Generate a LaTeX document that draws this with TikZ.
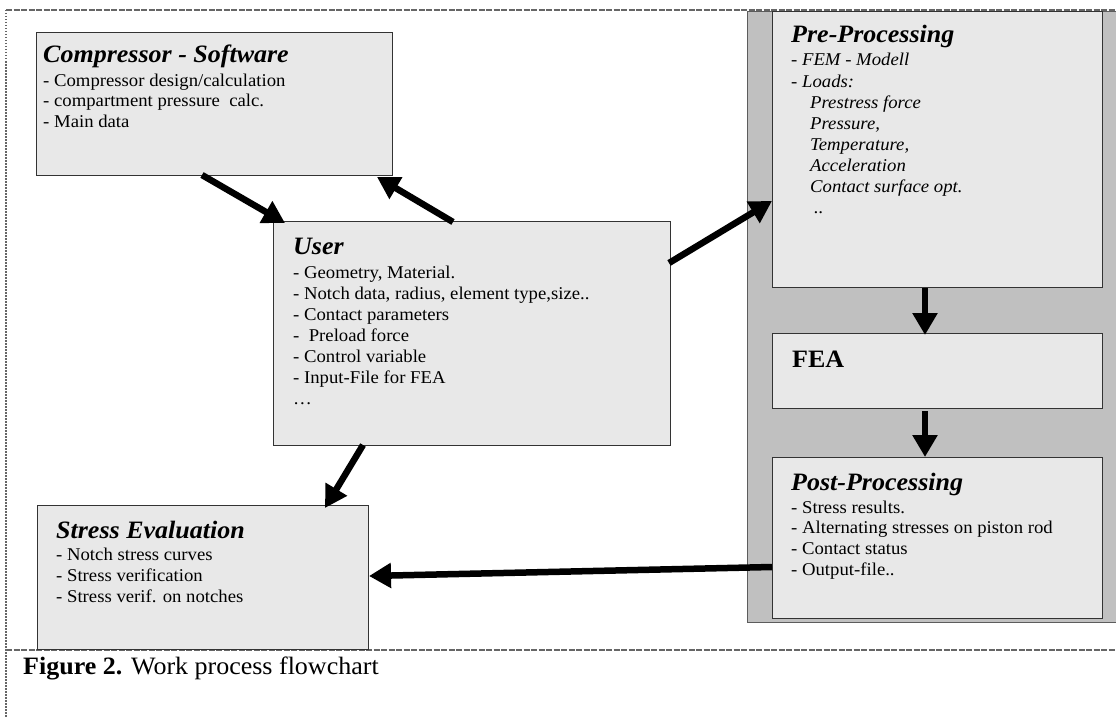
\documentclass[tikz,border=0pt]{standalone}
\usepackage{fontspec}
\setmainfont[FakeStretch=1.04]{Liberation Serif}
\usetikzlibrary{arrows.meta,calc}
\definecolor{boxfill}{HTML}{E8E8E8}
\definecolor{panelfill}{HTML}{C0C0C0}
\definecolor{edge}{HTML}{333333}
\definecolor{frameline}{HTML}{666666}
\begin{document}
\begin{tikzpicture}[x=1pt,y=-1pt,
  box/.style={draw=edge, line width=1pt, fill=boxfill, anchor=north west, inner sep=0pt},
  ttl/.style={anchor=base west, inner sep=0pt, font=\fontsize{25}{25}\selectfont\bfseries\itshape},
  itm/.style={anchor=base west, inner sep=0pt, font=\fontsize{18}{21}\selectfont},
  itmi/.style={itm, font=\fontsize{18}{21}\selectfont\itshape},
  arr/.style={line width=6.5pt, -{Triangle[length=22pt,width=24pt]}}]
\useasboundingbox (0,0) rectangle (1116,717);
% frame lines
\draw[frameline, line width=1.3pt, dash pattern=on 6pt off 1.5pt] (6,10) -- (1116,10);
\draw[frameline, line width=1.3pt, dash pattern=on 6pt off 1.5pt] (6,650) -- (1116,650);
\draw[frameline, line width=2pt, dash pattern=on 1.5pt off 1.5pt] (6,10) -- (6,717);
% grey panel
\node[box, draw=edge!80, fill=panelfill, minimum width=380pt, minimum height=611pt] (panel) at (747,11) {};
% boxes
\node[box, minimum width=356pt, minimum height=143pt] (cs) at (36,32) {};
\node[box, minimum width=397pt, minimum height=224pt] (user) at (273,221) {};
\node[box, minimum width=331pt, minimum height=144pt] (se) at (37,505) {};
\node[box, minimum width=330pt, minimum height=276pt] (pre) at (772,11) {};
\node[box, minimum width=330pt, minimum height=75pt] (fea) at (772,333) {};
\node[box, minimum width=330pt, minimum height=161pt] (post) at (772,457) {};
% Compressor - Software
\node[ttl] (cst) at (43,63) {Compressor - Software};
\foreach \t [count=\i] in {{- Compressor design/calculation},{- compartment pressure\ \ calc.},{- Main data}}
  \node[itm] (cs\i) at (43,{86+20.5*(\i-1)}) {\t};
% User
\node[ttl] (ut) at (293,254) {User};
\foreach \t [count=\i] in {{- Geometry, Material.},{- Notch data, radius, element type,size..},{- Contact parameters},{-\ \ Preload force},{- Control variable},{- Input-File for FEA},{…}}
  \node[itm] (u\i) at (293,{278+21*(\i-1)}) {\t};
% Pre-Processing
\node[ttl] (pt) at (791,43) {Pre-Processing};
\node[itmi] (p1) at (791,66) {- FEM - Modell};
\node[itmi] (p2) at (791,87) {- Loads:};
\foreach \t [count=\i] in {{Prestress force},{Pressure,},{Temperature,},{Acceleration},{Contact surface opt.}}
  \node[itmi] (pl\i) at (810,{108+21*(\i-1)}) {\t};
\node[itmi] (pdots) at (814,213) {..};
% FEA
\node[anchor=base west, inner sep=0pt, font=\fontsize{25}{25}\selectfont\bfseries] (feat) at (792,367) {FEA};
% Post-Processing
\node[ttl] (pot) at (791,490) {Post-Processing};
\foreach \t [count=\i] in {{- Stress results.},{- Alternating stresses on piston rod},{- Contact status},{- Output-file..}}
  \node[itm] (po\i) at (791,{513+20.7*(\i-1)}) {\t};
% Stress Evaluation
\node[ttl] (set) at (56,538) {Stress Evaluation};
\foreach \t [count=\i] in {{- Notch stress curves},{- Stress verification},{- Stress verif. on notches}}
  \node[itm] (se\i) at (56,{560+21*(\i-1)}) {\t};
% caption
\node[anchor=base west, inner sep=0pt, font=\fontsize{25}{25}\selectfont] (cap) at (23,674) {\textbf{Figure 2.} Work process flowchart};
% arrows
\draw[arr] ($(cs.south west)+(166,-1)$) -- ($(user.north west)+(12,2)$);
\draw[arr] ($(user.north west)+(180,1)$) -- ($(cs.south east)+(-16,1)$);
\draw[arr] ($(user.north east)+(-2,42)$) -- ($(pre.south west)+(0,-87)$);
\draw[arr] ($(user.south west)+(90,-1)$) -- ($(se.north west)+(288,3)$);
\draw[arr] ($(post.north west)+(0,110)$) -- ($(se.north east)+(0,71)$);
\draw[arr] ($(pre.south west)+(153,0)$) -- ($(fea.north west)+(153,2)$);
\draw[arr] ($(fea.south west)+(153,2)$) -- ($(post.north west)+(153,0)$);
\end{tikzpicture}
\end{document}
